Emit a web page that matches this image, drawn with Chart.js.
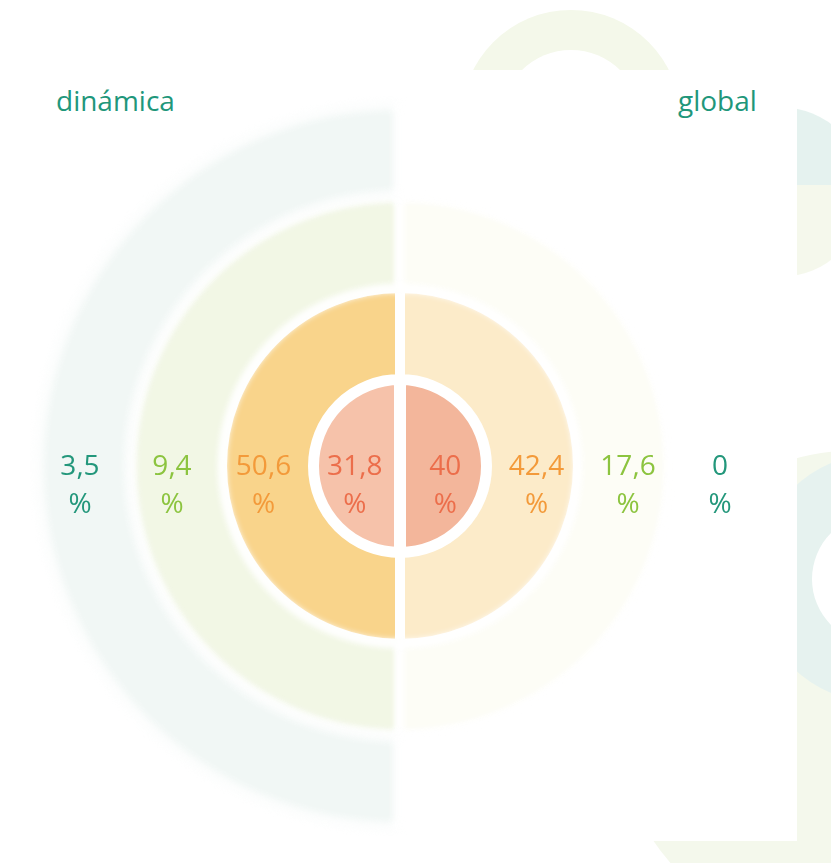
<!DOCTYPE html>
<html>
<head>
<meta charset="utf-8">
<script src="https://cdn.jsdelivr.net/npm/chart.js@4.4.1/dist/chart.umd.min.js"></script>
<style>
    body { margin: 0; background: #fff; width: 831px; height: 863px; overflow: hidden; position: relative; font-family: 'Open Sans', sans-serif; }
    .deco { position: absolute; border-radius: 50%; }
    #panel { position: absolute; left: 8px; top: 70px; width: 789px; height: 771px; background: #fff; }
    #wrap { position: absolute; left: 30px; top: 96px; width: 740px; height: 740px; }
    .side { position: absolute; top: 80px; font-size: 28px; color: #1f977b; line-height: 40px; }
</style>
</head>
<body>
<!-- background decoration -->
<div class="deco" style="left:461px; top:10px; width:220px; height:220px; background:#f4f8ea;"></div>
<div class="deco" style="left:501px; top:50px; width:140px; height:140px; background:#fff;"></div>
<div class="deco" style="left:695px; top:107px; width:170px; height:170px; background:linear-gradient(to bottom, #e5f2ef 0%, #e5f2ef 46%, #f5f8ec 46%, #f5f8ec 100%);"></div>
<div class="deco" style="left:610px; top:450px; width:500px; height:500px; background:#f4f8ec;"></div>
<div class="deco" style="left:755px; top:453px; width:250px; height:250px; background:#e6f2ef;"></div>
<div class="deco" style="left:812px; top:514px; width:130px; height:130px; background:#fff;"></div>
<div id="panel"></div>

<div class="side" style="left:56px;">dinámica</div>
<div class="side" style="left:678px;">global</div>

<div id="wrap"><canvas id="rings" width="740" height="740"></canvas></div>

<script>
// rings from outside to inside
const rings = ['teal', 'green', 'orange', 'inner'];
const dinamica = [3.5, 9.4, 50.6, 31.8];
const global = [0, 17.6, 42.4, 40];
const halfShare = [50, 50]; // left half = dinámica, right half = global

const leftColors = ['#f1f7f5', '#f2f7e5', '#f9d48b', '#f6c2aa'];
const rightColors = ['#ffffff', '#fdfdf6', '#fcebc9', '#f3b69b'];
const textColors = ['#23977b', '#8cc43f', '#f39a3a', '#ec6e4b'];
const ringWeights = [92, 92, 91, 87];
const ringBorders = [8, 8, 10, 12];

const fmt = (v) => String(v).replace('.', ',');

// soft edges on the pale outer rings
const blurPlugin = {
    id: 'blurOuter',
    beforeDatasetDraw(chart, args) {
        chart.ctx.save();
        if (args.index === 0) chart.ctx.filter = 'blur(5px)';
        if (args.index === 1) chart.ctx.filter = 'blur(3px)';
    },
    afterDatasetDraw(chart) {
        chart.ctx.restore();
    }
};

const labelPlugin = {
    id: 'ringLabels',
    afterDatasetsDraw(chart) {
        const ctx = chart.ctx;
        ctx.save();
        ctx.font = '28px "Open Sans"';
        ctx.textAlign = 'center';
        ctx.textBaseline = 'middle';
        rings.forEach((name, i) => {
            const meta = chart.getDatasetMeta(i);
            meta.data.forEach((arc, j) => {
                const r = arc.innerRadius === 0 ? arc.outerRadius * 0.52 : (arc.innerRadius + arc.outerRadius) / 2 + 4;
                const x = j === 0 ? arc.x - r : arc.x + r;
                const v = j === 0 ? dinamica[i] : global[i];
                ctx.fillStyle = textColors[i];
                ctx.fillText(fmt(v), x, arc.y + 1);
                ctx.fillText('%', x, arc.y + 39);
            });
        });
        ctx.restore();
    }
};

new Chart(document.getElementById('rings'), {
    type: 'doughnut',
    data: {
        labels: ['dinámica', 'global'],
        datasets: rings.map((name, i) => ({
            label: name,
            data: halfShare,
            backgroundColor: [leftColors[i], rightColors[i]],
            borderColor: '#ffffff',
            borderWidth: ringBorders[i],
            borderJoinStyle: 'miter',
            weight: ringWeights[i],
            hoverOffset: 0
        }))
    },
    options: {
        responsive: false,
        animation: false,
        events: [],
        cutout: 0,
        radius: 362,
        rotation: 180,
        layout: { padding: 0 },
        plugins: {
            legend: { display: false },
            tooltip: { enabled: false }
        }
    },
    plugins: [blurPlugin, labelPlugin]
});
</script>
</body>
</html>
